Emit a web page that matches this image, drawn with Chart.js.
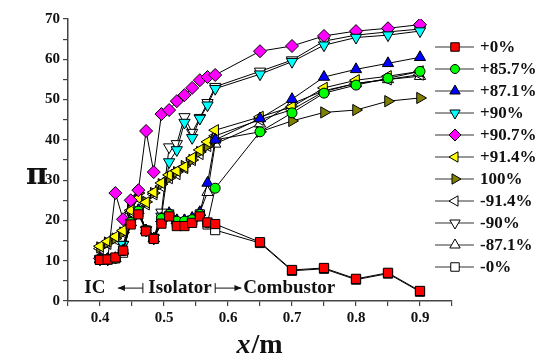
<!DOCTYPE html>
<html>
<head>
<meta charset="utf-8">
<script src="https://cdn.jsdelivr.net/npm/chart.js@4.4.0/dist/chart.umd.min.js"></script>
<style>
  html, body { margin: 0; padding: 0; background: #fff; }
  #wrap { width: 536px; height: 358px; position: relative; }
</style>
</head>
<body>
<div id="wrap"><canvas id="piChart"></canvas></div>
<script>
// tap positions along the duct (m)
const xPos = [0.4, 0.412, 0.424, 0.436, 0.448, 0.46, 0.472, 0.484, 0.496, 0.508, 0.52, 0.532,
              0.544, 0.556, 0.568, 0.58, 0.65, 0.7, 0.75, 0.8, 0.85, 0.9];

const seriesNames = ['+0%', '+85.7%', '+87.1%', '+90%', '+90.7%', '+91.4%', '100%', '-91.4%', '-90%', '-87.1%', '-0%'];

const plus0   = [10.2, 10.3, 10.8, 12.5, 19.0, 21.5, 17.3, 15.4, 19.2, 21.0, 18.6, 18.6, 19.4, 21.0, 19.5, 19.1, 14.6, 7.7, 8.2, 5.5, 7.0, 2.5];
const plus857 = [10.3, 10.3, 10.6, 12.5, 19.5, 22.3, 17.5, 15.5, 20.5, 21.5, 19.8, 19.8, 20.2, 21.5, 19.4, 28.0, 42.0, 46.7, 51.6, 53.6, 55.3, 57.0];
const plus871 = [10.3, 10.3, 10.6, 12.5, 19.5, 22.5, 17.5, 15.5, 20.5, 21.8, 20.0, 20.0, 20.6, 22.0, 29.3, 40.0, 45.3, 50.1, 55.6, 57.5, 59.0, 60.5];
const plus90  = [10.4, 10.4, 10.8, 14.0, 19.5, 22.5, 17.6, 15.6, 21.0, 34.5, 37.5, 44.3, 40.5, 45.3, 48.6, 52.7, 56.3, 59.4, 63.5, 65.4, 66.0, 67.0];
const plus907 = [10.6, 10.4, 26.8, 20.3, 25.0, 27.5, 42.2, 32.0, 46.4, 47.4, 49.6, 51.1, 52.9, 54.8, 55.6, 56.1, 62.0, 63.3, 65.8, 67.0, 67.7, 68.6];
const plus914 = [13.6, 14.8, 16.0, 17.5, 22.5, 25.5, 24.5, 27.0, 29.3, 31.3, 32.3, 33.3, 35.5, 37.5, 39.5, 42.4, 45.7, 48.2, 52.9, 54.8, 55.8, 57.0];
const full100 = [13.3, 14.5, 15.5, 17.0, 22.6, 26.8, 24.6, 26.8, 29.0, 30.5, 32.0, 33.5, 35.0, 37.0, 38.5, 40.0, 42.0, 44.7, 46.8, 47.4, 49.6, 50.4];
const minus914 = [13.0, 14.2, 15.3, 17.0, 22.0, 26.0, 24.0, 26.5, 28.5, 30.5, 31.5, 33.0, 35.0, 36.5, 38.5, 41.0, 45.0, 47.5, 52.0, 54.0, 55.0, 56.2];
const minus90  = [10.4, 10.4, 10.8, 14.0, 19.5, 22.5, 17.6, 15.6, 22.0, 38.2, 39.0, 45.7, 41.8, 45.5, 49.2, 53.2, 57.0, 59.8, 64.5, 66.0, 66.8, 67.5];
const minus871 = [10.3, 10.3, 10.6, 12.5, 19.5, 22.5, 17.5, 15.5, 20.5, 21.5, 20.0, 20.0, 20.5, 22.0, 27.0, 39.0, 44.0, 49.0, 52.2, 54.0, 55.0, 55.8];
const minus0   = [10.2, 10.3, 10.6, 12.0, 19.5, 22.0, 17.5, 15.5, 20.0, 21.5, 19.5, 19.5, 20.0, 21.5, 19.0, 17.6, 14.4, 7.5, 8.0, 5.3, 6.8, 2.3];

const yTicksMax = 70;
const serif = "'Liberation Serif', 'DejaVu Serif', serif";

function mk(i, vals, fill, style, rot, r) {
    return {
        label: seriesNames[i],
        data: vals.map((v, k) => ({ x: xPos[k], y: v })),
        borderColor: '#000',
        borderWidth: 1,
        pointBackgroundColor: fill,
        pointBorderColor: '#000',
        pointBorderWidth: 1,
        pointStyle: style,
        pointRotation: rot,
        pointRadius: r,
        showLine: true,
        tension: 0
    };
}

const datasets = [
    mk(0, plus0, '#ff0000', 'rect', 0, 6.5),
    mk(1, plus857, '#00ff00', 'circle', 0, 5),
    mk(2, plus871, '#0000ff', 'triangle', 0, 6.5),
    mk(3, plus90, '#00ffff', 'triangle', 180, 6.5),
    mk(4, plus907, '#ff00ff', 'rectRot', 0, 6.5),
    mk(5, plus914, '#ffff00', 'triangle', -90, 6.5),
    mk(6, full100, '#808000', 'triangle', 90, 6.5),
    mk(7, minus914, '#ffffff', 'triangle', -90, 6.5),
    mk(8, minus90, '#ffffff', 'triangle', 180, 6.5),
    mk(9, minus871, '#ffffff', 'triangle', 0, 6.5),
    mk(10, minus0, '#ffffff', 'rect', 0, 6.5)
];

function arrow(ctx, x1, x2, y, headAtLeft) {
    ctx.beginPath();
    ctx.moveTo(x1, y);
    ctx.lineTo(x2, y);
    ctx.stroke();
    const tip = headAtLeft ? x1 : x2;
    const bar = headAtLeft ? x2 : x1;
    const d = headAtLeft ? 1 : -1;
    ctx.beginPath();
    ctx.moveTo(tip, y);
    ctx.lineTo(tip + 7 * d, y - 3);
    ctx.lineTo(tip + 7 * d, y + 3);
    ctx.closePath();
    ctx.fill();
    ctx.beginPath();
    ctx.moveTo(bar, y - 5);
    ctx.lineTo(bar, y + 5);
    ctx.stroke();
}

const extras = {
    id: 'extras',
    afterDraw(chart) {
        const ctx = chart.ctx;
        const xs = chart.scales.x, ys = chart.scales.y;
        ctx.save();
        ctx.fillStyle = '#111';
        ctx.strokeStyle = '#111';

        // region labels along the bottom
        const ay = ys.getPixelForValue(3.2);
        ctx.font = 'bold 19px ' + serif;
        ctx.textBaseline = 'middle';
        ctx.textAlign = 'center';
        ctx.fillText('IC', xs.getPixelForValue(0.392), ay);
        ctx.fillText('Isolator', xs.getPixelForValue(0.525), ay);
        ctx.textAlign = 'left';
        ctx.fillText('Combustor', xs.getPixelForValue(0.624), ay);
        ctx.lineWidth = 1;
        arrow(ctx, xs.getPixelForValue(0.428), xs.getPixelForValue(0.467), ay, true);
        arrow(ctx, xs.getPixelForValue(0.58), xs.getPixelForValue(0.621), ay, false);

        // axis titles
        ctx.textAlign = 'center';
        ctx.font = 'bold 30px "DejaVu Serif", serif';
        ctx.fillText('\u03c0', 37, 176);
        ctx.textAlign = 'left';
        ctx.textBaseline = 'alphabetic';
        ctx.font = 'italic bold 28px ' + serif;
        const w1 = ctx.measureText('x').width;
        ctx.font = 'bold 28px ' + serif;
        const w2 = ctx.measureText('/m').width;
        const sx = 259 - (w1 + w2) / 2;
        ctx.font = 'italic bold 28px ' + serif;
        ctx.fillText('x', sx, 353);
        ctx.font = 'bold 28px ' + serif;
        ctx.fillText('/m', sx + w1 + 1, 353);

        // legend
        ctx.font = 'bold 17px ' + serif;
        ctx.textBaseline = 'middle';
        chart.data.datasets.forEach((ds, i) => {
            const ly = 47 + 22 * i;
            ctx.strokeStyle = '#333';
            ctx.lineWidth = 1.2;
            ctx.beginPath();
            ctx.moveTo(435, ly);
            ctx.lineTo(474, ly);
            ctx.stroke();
            ctx.fillStyle = ds.pointBackgroundColor;
            ctx.strokeStyle = '#000';
            ctx.lineWidth = 1;
            Chart.helpers.drawPoint(ctx, {
                pointStyle: ds.pointStyle,
                radius: ds.pointRadius - 0.5,
                rotation: ds.pointRotation,
                borderWidth: 1
            }, 455, ly);
            ctx.fillStyle = '#111';
            ctx.fillText(ds.label, 480, ly + 1);
        });
        ctx.restore();
    }
};

new Chart(document.getElementById('piChart'), {
    type: 'scatter',
    data: { datasets: datasets },
    options: {
        responsive: true,
        maintainAspectRatio: false,
        devicePixelRatio: 1,
        animation: false,
        layout: { padding: { top: 19, right: 84, left: 0, bottom: 0 } },
        plugins: { legend: { display: false }, tooltip: { enabled: false } },
        scales: {
            x: {
                type: 'linear',
                min: 0.35,
                max: 0.95,
                afterFit: s => { s.height = 57; },
                ticks: {
                    stepSize: 0.05,
                    autoSkip: false,
                    maxRotation: 0,
                    padding: 3,
                    color: '#111',
                    font: { family: serif, size: 15, weight: 'bold' },
                    callback: v => {
                        const t = Math.round(v * 100);
                        return (t % 10 === 0) ? (t / 100).toFixed(1) : '';
                    }
                },
                grid: { drawOnChartArea: false, tickLength: 5, color: '#444', lineWidth: 1.2 },
                border: { color: '#444', width: 1.5 }
            },
            y: {
                min: 0,
                max: yTicksMax,
                afterFit: s => { s.width = 68; },
                ticks: {
                    stepSize: 5,
                    autoSkip: false,
                    padding: 3,
                    color: '#111',
                    font: { family: serif, size: 15, weight: 'bold' },
                    callback: v => (v % 10 === 0 ? v : '')
                },
                grid: { drawOnChartArea: false, tickLength: 5, color: '#444', lineWidth: 1.2 },
                border: { color: '#444', width: 1.5 }
            }
        }
    },
    plugins: [extras]
});
</script>
</body>
</html>
